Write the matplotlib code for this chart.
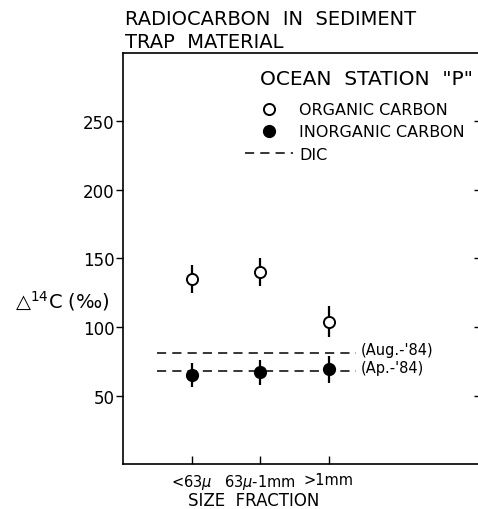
import matplotlib as mpl
import matplotlib.pyplot as plt

mpl.use('Agg')

# size fractions along the x axis
fractions = ['<63$\\mu$', '63$\\mu$-1mm', '>1mm']
xpos = [1, 2, 3]

# radiocarbon values (per mil)
organic = [135, 140, 104]
organic_err = [10, 10, 11]
inorganic = [65, 67, 69]
inorganic_err = [9, 9, 10]

# DIC reference levels
dic_values = [81, 68]
dic_labels = ["(Aug.-'84)", "(Ap.-'84)"]
dic_span = [0.5, 3.4]

yticks = [50, 100, 150, 200, 250]

fig = plt.figure(figsize=(4.78, 5.10), dpi=100)
ax = fig.add_axes([0.2573, 0.0882, 0.749, 0.806])

ax.errorbar(xpos, organic, yerr=organic_err, fmt='none', ecolor='black', elinewidth=1.6, zorder=2)
ax.errorbar(xpos, inorganic, yerr=inorganic_err, fmt='none', ecolor='black', elinewidth=1.6, zorder=2)
ax.plot(xpos, organic, 'o', ms=8, mfc='white', mec='black', mew=1.4, ls='none',
        label='ORGANIC CARBON', zorder=3)
ax.plot(xpos, inorganic, 'o', ms=8.5, mfc='black', mec='black', ls='none',
        label='INORGANIC CARBON', zorder=3)

for i, (v, lab) in enumerate(zip(dic_values, dic_labels)):
    ax.plot(dic_span, [v, v], color='black', lw=1.1, ls=(0, (6, 4)),
            label='DIC' if i == 0 else None, zorder=1)
    ax.text(dic_span[1] + 0.06, v + 2.5, lab, fontsize=10.5, va='center', ha='left')

ax.set_xlim(0, 5.22)
ax.set_ylim(0, 300)
ax.set_xticks(xpos)
ax.set_xticklabels(fractions, fontsize=10.5)
ax.set_yticks(yticks)
ax.set_yticklabels([str(t) for t in yticks], fontsize=12)

ax.tick_params(axis='y', direction='out', length=5, width=1, left=True, right=False, pad=1)
ax.tick_params(axis='x', direction='in', length=6, width=1, top=False, pad=6)
ax.spines['right'].set_visible(False)
for s in ['left', 'bottom', 'top']:
    ax.spines[s].set_linewidth(1.2)

# inward ticks on the right side
rax = ax.twinx()
rax.set_ylim(ax.get_ylim())
rax.set_yticks(yticks)
rax.tick_params(axis='y', direction='in', length=5, width=1, labelright=False)
for s in rax.spines.values():
    s.set_visible(False)

ax.set_xlabel('SIZE  FRACTION', fontsize=12, va='baseline')
ax.xaxis.set_label_coords(0.366, -0.100)
ax.set_ylabel('$\\bigtriangleup^{14}$C (‰)', fontsize=14, rotation=0, ha='center', va='center')
ax.yaxis.set_label_coords(-0.17, 0.40)

fig.text(125 / 478, 1 - 10 / 510, 'RADIOCARBON  IN  SEDIMENT\nTRAP  MATERIAL', fontsize=14,
         ha='left', va='top', linespacing=1.3)

ax.text(0.383, 0.937, 'OCEAN  STATION  "P"', transform=ax.transAxes, fontsize=14.5,
        ha='left', va='center')
ax.legend(loc='upper left', bbox_to_anchor=(0.341, 0.880), frameon=False,
          fontsize=11.5, handlelength=3.0, handletextpad=0.4, labelspacing=0.45,
          borderpad=0, borderaxespad=0, numpoints=1)

fig.savefig('out.png', dpi=100)
